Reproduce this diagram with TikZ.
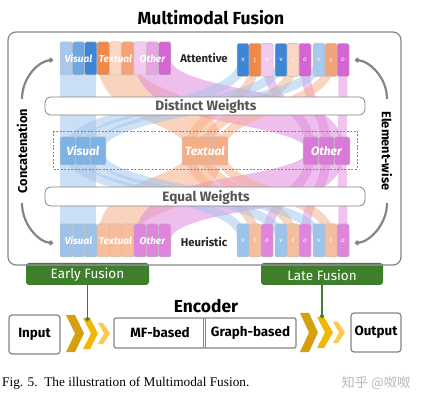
\documentclass[tikz,border=0pt]{standalone}
\usepackage{fontspec}
\setmainfont{Fira Sans}
\newfontfamily\capfont{Liberation Serif}
\newfontfamily\cjk{Noto Sans CJK SC}
\usetikzlibrary{calc,arrows.meta}
\pgfdeclarelayer{bg}
\pgfsetlayers{bg,main}
\definecolor{blueD}{HTML}{3D86D6}
\definecolor{blueM}{HTML}{6FA8E0}
\definecolor{blueL}{HTML}{A6C9ED}
\definecolor{blueB}{HTML}{9DC3EB}
\definecolor{orD}{HTML}{F0884A}
\definecolor{orM}{HTML}{F4A378}
\definecolor{orL}{HTML}{FBD6C2}
\definecolor{orB}{HTML}{F7BE9E}
\definecolor{piL}{HTML}{F3C9F0}
\definecolor{piM}{HTML}{E8A2E5}
\definecolor{piD}{HTML}{D465D2}
\definecolor{piB}{HTML}{DF86DC}
\definecolor{midV}{HTML}{7DB2E5}
\definecolor{midT}{HTML}{F5AE88}
\definecolor{midO}{HTML}{DA7AD8}
\definecolor{ribV}{HTML}{9FC5EC}
\definecolor{ribT}{HTML}{F6AE85}
\definecolor{ribO}{HTML}{E08ADD}
\definecolor{frame}{HTML}{858585}
\definecolor{txtg}{HTML}{555555}
\definecolor{fgreen}{HTML}{3F7F2C}
\definecolor{goldD}{HTML}{D4A010}
\definecolor{goldM}{HTML}{F2B705}
\definecolor{goldL}{HTML}{F9CB4F}
\begin{document}
\begin{tikzpicture}[x=1pt,y=-1pt,
  blk/.style={rectangle, rounded corners=1.5pt, inner sep=0pt, draw=black!25, line width=0.5pt,
    minimum width=12.3pt, minimum height=33pt},
  midblk/.style={blk, minimum width=15.3pt, minimum height=28pt},
  rblk/.style={blk, minimum width=12pt, minimum height=33pt},
  lbl/.style={text=white, font=\fontsize{10}{12}\selectfont\bfseries\itshape, inner sep=0pt},
  mlbl/.style={text=white, font=\fontsize{12}{14}\selectfont\bfseries\itshape, inner sep=0pt},
  slbl/.style={text=white, font=\fontsize{6.5}{7}\selectfont\itshape, inner sep=0pt},
  hdr/.style={text=black!85, font=\fontsize{11.3}{13}\selectfont\bfseries, inner sep=0pt},
  wbox/.style={draw=frame, line width=0.8pt, fill=white, rounded corners=6pt},
  wtxt/.style={text=txtg, font=\fontsize{13.6}{15}\selectfont\bfseries, inner sep=0pt},
  sidearr/.style={draw=frame, line width=2.2pt, -{Circle[length=4.5pt]}},
  sidetxt/.style={font=\fontsize{12.8}{14}\selectfont\bfseries, inner sep=0pt},
  ribwide/.style={line width=36pt, line cap=butt, draw opacity=0.55},
  ribthin/.style={line width=9pt, line cap=butt, draw opacity=0.5},
  tab/.style={fill=fgreen, rounded corners=3pt},
  tabtxt/.style={text=white, font=\fontsize{13.5}{15}\selectfont, inner sep=0pt},
  iobox/.style={draw=frame, line width=1.2pt, rounded corners=3pt, fill=white},
  iotxt/.style={font=\fontsize{13.4}{15}\selectfont\bfseries, inner sep=0pt},
  gline/.style={draw=fgreen, line width=1.6pt, -{Circle[length=4pt]}}
]
\useasboundingbox (0,0) rectangle (423,403);

% title and frame
\node[font=\fontsize{17.5}{20}\selectfont\bfseries, inner sep=0pt] (title) at (211,18) {Multimodal Fusion};
\draw[frame, line width=1.2pt, rounded corners=8pt] (8,32) rectangle (401,265);

% weight boxes and dashed frame
\draw[wbox] (45,97) rectangle (365,115);
\node[wtxt] (dw) at (206,106) {Distinct Weights};
\draw[wbox] (45,187) rectangle (365,206);
\node[wtxt] (ew) at (206,197) {Equal Weights};
\draw[frame, line width=0.6pt, dash pattern=on 2pt off 1.5pt] (53,131) rectangle (357,169);

% top-left blocks
\foreach \i/\c in {1/blueL,2/blueM,3/blueD,4/orD,5/orL,6/orM,7/piL,8/piM,9/piD}
  \node[blk, fill=\c] (tl\i) at ({60+12.33*(\i-0.5)},58.5) {};
% bottom-left blocks
\foreach \i/\c in {1/blueB,2/blueB,3/blueB,4/orB,5/orB,6/orB,7/piB,8/piB,9/piB}
  \node[blk, fill=\c] (bl\i) at ({60+12.33*(\i-0.5)},240.5) {};
\node[lbl] (ltv) at (tl2) {Visual};
\node[lbl] (ltt) at (tl5) {Textual};
\node[lbl] (lto) at (tl8) {Other};
\node[lbl] (lbv) at (bl2) {Visual};
\node[lbl] (lbt) at (bl5) {Textual};
\node[lbl] (lbo) at (bl8) {Other};

% top-right blocks
\foreach \g/\cv/\ct/\co in {1/blueD/orD/piL,2/blueD/orL/piD,3/blueL/orM/piD}{
  \node[rblk, fill=\cv] (trv\g) at ({243+38*(\g-1)},60) {};
  \node[rblk, fill=\ct] (trt\g) at ({255+38*(\g-1)},60) {};
  \node[rblk, fill=\co] (tro\g) at ({267+38*(\g-1)},60) {};
  \node[slbl] at (trv\g) {v};
  \node[slbl] at (trt\g) {t};
  \node[slbl] at (tro\g) {o};
}
% bottom-right blocks
\foreach \g in {1,2,3}{
  \node[rblk, fill=blueB] (brv\g) at ({243+38*(\g-1)},240.5) {};
  \node[rblk, fill=orB] (brt\g) at ({255+38*(\g-1)},240.5) {};
  \node[rblk, fill=piB] (bro\g) at ({267+38*(\g-1)},240.5) {};
  \node[slbl] at (brv\g) {v};
  \node[slbl] at (brt\g) {t};
  \node[slbl] at (bro\g) {o};
}
% middle blocks
\foreach \i in {1,2,3}{
  \node[midblk, fill=midV] (mv\i) at ({60+15.33*(\i-0.5)},151) {};
  \node[midblk, fill=midT] (mt\i) at ({182+15.33*(\i-0.5)},151) {};
  \node[midblk, fill=midO] (mo\i) at ({303+15.67*(\i-0.5)},151) {};
}
\node[mlbl] (lmv) at (mv2) {Visual};
\node[mlbl] (lmt) at (mt2) {Textual};
\node[mlbl] (lmo) at (mo2) {Other};

\node[hdr] (att) at (204,58) {Attentive};
\node[hdr] (heu) at (204,242) {Heuristic};

% ribbons
\begin{pgfonlayer}{bg}
\draw[ribwide, draw=ribV] (tl2.center) -- (bl2.center);
\draw[ribwide, draw=ribT] (tl5.center) .. controls +(0,55) and +(0,-50) .. (mt2.center);
\draw[ribwide, draw=ribT] (mt2.center) .. controls +(0,50) and +(0,-55) .. (bl5.center);
\draw[ribwide, draw=ribO] (tl8.center) .. controls +(0,60) and +(0,-55) .. (mo2.center);
\draw[ribwide, draw=ribO] (mo2.center) .. controls +(0,55) and +(0,-60) .. (bl8.center);
\foreach \g in {1,2,3}{
  \draw[ribthin, draw=ribV] (trv\g.center) .. controls +(0,50) and +(0,-45) .. (mv\g.center);
  \draw[ribthin, draw=ribT] (trt\g.center) .. controls +(0,50) and +(0,-45) .. (mt\g.center);
  \draw[ribthin, draw=ribO] (tro\g.center) .. controls +(0,50) and +(0,-45) .. (mo\g.center);
  \draw[ribthin, draw=ribV] (mv\g.center) .. controls +(0,45) and +(0,-50) .. (brv\g.center);
  \draw[ribthin, draw=ribT] (mt\g.center) .. controls +(0,45) and +(0,-50) .. (brt\g.center);
  \draw[ribthin, draw=ribO] (mo\g.center) .. controls +(0,45) and +(0,-50) .. (bro\g.center);
}
\end{pgfonlayer}

% side arrows
\coordinate (alt0) at (22,99);  \coordinate (alt1) at (53,60);
\coordinate (alb0) at (22,203); \coordinate (alb1) at (53,243);
\coordinate (art0) at (387,99); \coordinate (art1) at (355,60);
\coordinate (arb0) at (387,203);\coordinate (arb1) at (355,243);
\draw[sidearr] (alt0) .. controls +(0,-22) and +(-14,1) .. (alt1);
\draw[sidearr] (alb0) .. controls +(0,22) and +(-14,-1) .. (alb1);
\draw[sidearr] (art0) .. controls +(0,-22) and +(14,1) .. (art1);
\draw[sidearr] (arb0) .. controls +(0,22) and +(14,-1) .. (arb1);
\node[sidetxt, rotate=90] (concat) at (22,151) {Concatenation};
\node[sidetxt, rotate=-90] (elem) at (387,151) {Element-wise};

% fusion tabs
\fill[tab] (26,263) rectangle (149,285);
\node[tabtxt] (early) at (87.5,275) {Early Fusion};
\fill[tab] (261,263) rectangle (383,285);
\node[tabtxt] (late) at (322,275) {Late Fusion};
\draw[frame, line width=1.2pt] (26,265) -- (149,265) (261,265) -- (383,265);
\coordinate (eb) at (87.5,285);
\coordinate (lb) at (322,285);

% chevrons
\fill[goldD] (66,315) -- (75,315) -- (84,333.5) -- (75,352) -- (66,352) -- (75,333.5) -- cycle;
\fill[goldM] (83,318) -- (90,318) -- (98,333.5) -- (90,349) -- (83,349) -- (91,333.5) -- cycle;
\fill[goldL] (98,323) -- (103,323) -- (110,333.5) -- (103,344) -- (98,344) -- (104,333.5) -- cycle;
\fill[goldD] (300,313) -- (309,313) -- (318,332.5) -- (309,352) -- (300,352) -- (309,332.5) -- cycle;
\fill[goldM] (317,317) -- (324,317) -- (333,332.5) -- (324,348) -- (317,348) -- (325,332.5) -- cycle;
\fill[goldL] (333,322) -- (338,322) -- (345,332.5) -- (338,343) -- (333,343) -- (339,332.5) -- cycle;

\coordinate (ed) at (87.5,321);
\coordinate (ld) at (322,318);
\draw[gline] (eb) -- (ed);
\draw[gline] (lb) -- (ld);

% encoder
\node[font=\fontsize{17.4}{20}\selectfont\bfseries, inner sep=0pt] (enc) at (206,306) {Encoder};
\draw[iobox, rounded corners=2pt] (114,318) rectangle (296,348);
\draw[frame, line width=0.8pt] (203,318) -- (203,348) (205.5,318) -- (205.5,348);
\node[iotxt] (mf) at (160,333) {MF-based};
\node[iotxt] (gb) at (250.5,333) {Graph-based};

% input / output
\draw[iobox] (9,315) rectangle (60,354);
\node[iotxt] (inp) at (34.5,334.5) {Input};
\draw[iobox] (351,313) rectangle (401,352);
\node[iotxt] (outp) at (376,332.5) {Output};

% caption and watermark
\node[anchor=west, inner sep=0pt, font=\capfont\fontsize{13.3}{15}\selectfont] (cap) at (2,383) {Fig. 5.\ \ The illustration of Multimodal Fusion.};
\node[inner sep=0pt, text=black!28, font=\cjk\fontsize{13.3}{15}\selectfont] (wm) at (376,383) {知乎 @呶呶};
\end{tikzpicture}
\end{document}
